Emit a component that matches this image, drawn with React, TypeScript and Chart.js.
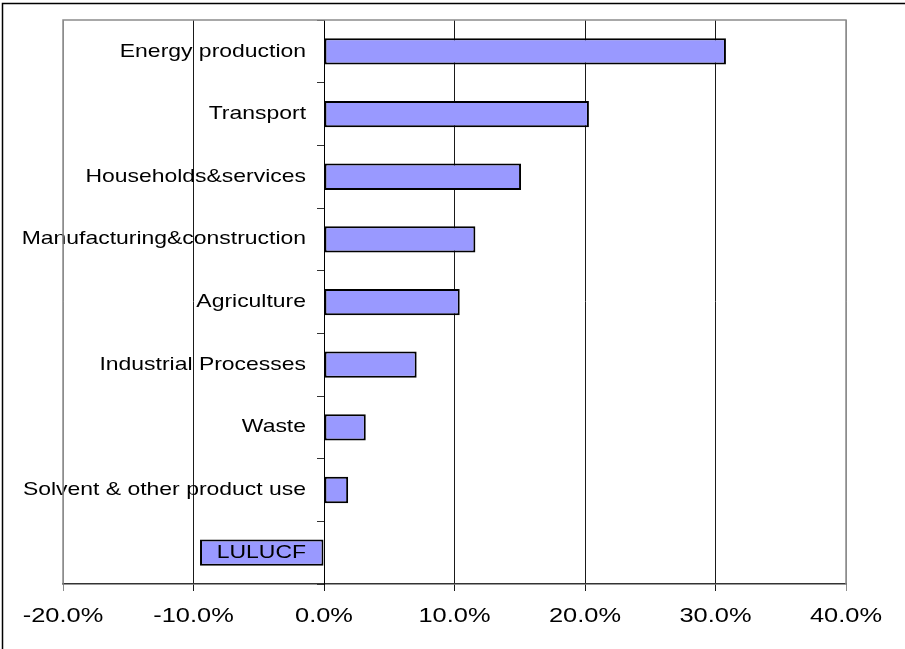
import React, { useEffect, useRef } from "react";
import { Chart, registerables } from "chart.js";

Chart.register(...registerables);

const categories = [
  "Energy production",
  "Transport",
  "Households&services",
  "Manufacturing&construction",
  "Agriculture",
  "Industrial Processes",
  "Waste",
  "Solvent & other product use",
  "LULUCF",
];
const shareValues = [30.8, 20.3, 15.1, 11.6, 10.4, 7.1, 3.2, 1.85, -9.5];
const xMin = -20;
const xMax = 40;
const xStep = 10;

const FONT = "'Liberation Sans', Arial, sans-serif";

// stretch tick label glyphs horizontally around their anchor (the reference text is wide)
const framePlugin = {
  id: "frame",
  beforeDraw(chart: any) {
    for (const s of Object.values(chart.scales) as any[]) {
      if (!s.__wrapped) {
        const orig = s.drawLabels.bind(s);
        s.drawLabels = (ca: any) => {
          const ctx = chart.ctx;
          const isX = s.axis === "x";
          const sx = isX ? 1.27 : 1.24;
          const dx = isX ? 0 : -18;
          const origFill = ctx.fillText;
          ctx.fillText = function (text: string, x: number, y: number) {
            ctx.save();
            ctx.translate(x + dx, y);
            ctx.scale(sx, 1);
            origFill.call(ctx, text, 0, 0);
            ctx.restore();
          };
          try {
            orig(ca);
          } finally {
            ctx.fillText = origFill;
          }
        };
        s.__wrapped = true;
      }
    }
  },
  afterDraw(chart: any) {
    const { ctx, chartArea } = chart;
    ctx.save();
    ctx.strokeStyle = "#8c8c8c";
    ctx.lineWidth = 1.5;
    ctx.beginPath();
    ctx.moveTo(chartArea.left, chartArea.bottom);
    ctx.lineTo(chartArea.left, chartArea.top);
    ctx.lineTo(chartArea.right, chartArea.top);
    ctx.lineTo(chartArea.right, chartArea.bottom);
    ctx.stroke();
    ctx.strokeStyle = "#000";
    ctx.lineWidth = 1.5;
    ctx.beginPath();
    ctx.moveTo(2.5, chart.height + 5);
    ctx.lineTo(2.5, 3.5);
    ctx.lineTo(chart.width + 5, 3.5);
    ctx.stroke();
    ctx.restore();
  },
};

export default function App() {
  const ref = useRef<HTMLCanvasElement>(null);
  useEffect(() => {
    document.body.style.margin = "0";
    const chart = new Chart(ref.current!, {
      type: "bar",
      data: {
        labels: categories,
        datasets: [
          {
            data: shareValues,
            backgroundColor: "#9999ff",
            borderColor: "#000",
            borderWidth: 2,
            borderSkipped: false,
            barPercentage: 0.42,
            categoryPercentage: 1,
          },
        ],
      },
      options: {
        indexAxis: "y",
        animation: false,
        responsive: false,
        maintainAspectRatio: false,
        layout: { padding: { left: 63, top: 19, right: 59, bottom: 8 } },
        plugins: { legend: { display: false }, tooltip: { enabled: false } },
        scales: {
          x: {
            type: "linear",
            min: xMin,
            max: xMax,
            ticks: {
              stepSize: xStep,
              padding: 13,
              color: "#000",
              font: { family: FONT, size: 20 },
              callback: (v: any) => Number(v).toFixed(1) + "%",
            },
            grid: {
              color: (c: any) =>
                c.tick && (c.tick.value === xMin || c.tick.value === xMax) ? "#8c8c8c" : "#1a1a1a",
              lineWidth: 1,
              tickLength: 7,
            },
            border: { color: "#333", width: 1.5 },
          },
          y: {
            type: "category",
            position: { x: 0 } as any,
            offset: true,
            ticks: {
              z: 1,
              padding: 9,
              color: "#000",
              font: { family: FONT, size: 18.5 },
              autoSkip: false,
            },
            grid: {
              offset: true,
              drawOnChartArea: false,
              tickLength: 7,
              color: "#333",
            },
            border: { color: "#000", width: 1 },
          },
        },
      },
      plugins: [framePlugin],
    });
    return () => chart.destroy();
  }, []);
  return (
    <div style={{ width: 905, height: 649 }}>
      <canvas ref={ref} width={905} height={649} style={{ display: "block" }} />
    </div>
  );
}
